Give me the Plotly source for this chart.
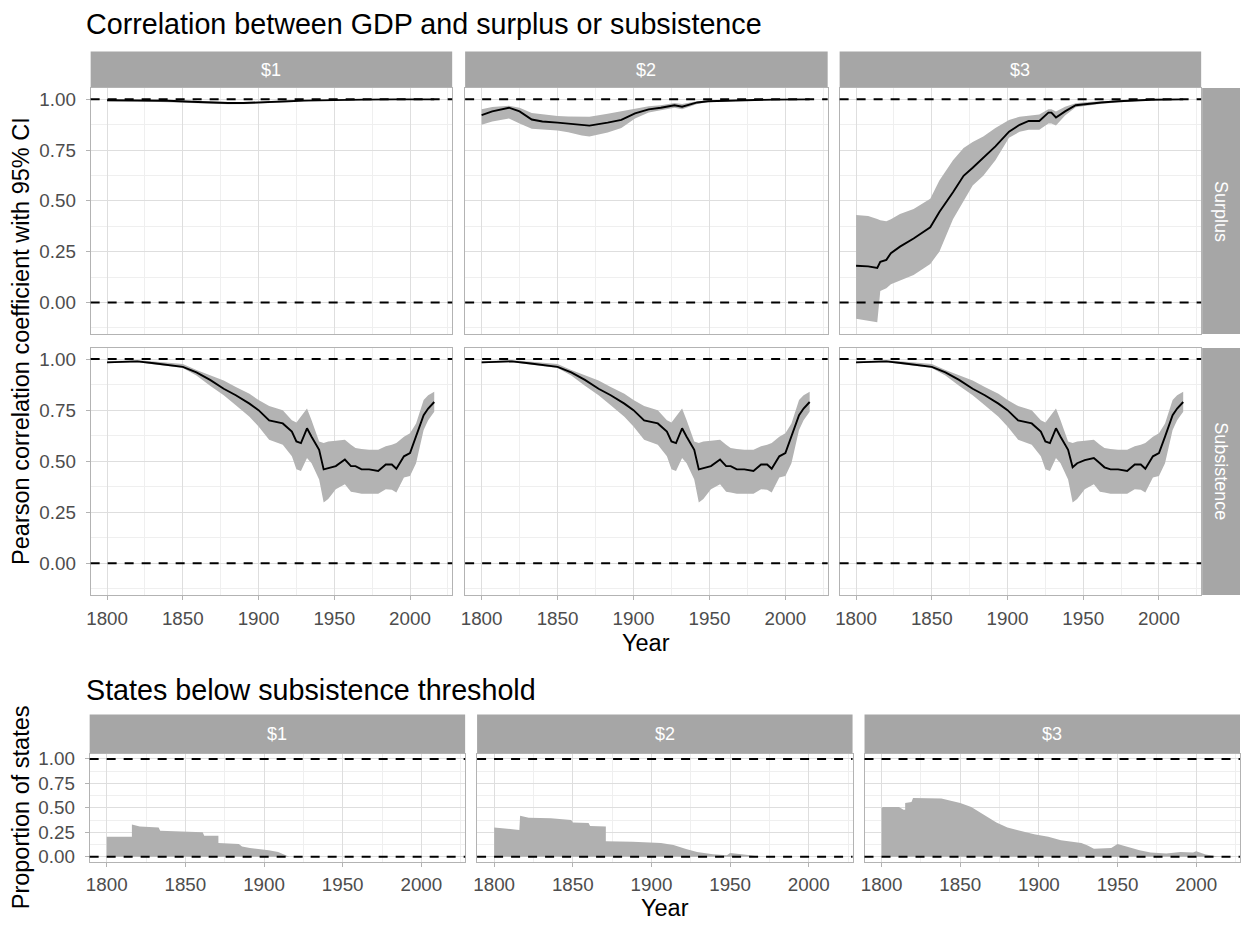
import plotly.graph_objects as go

W, H = 1241, 927

# ---------------- data ----------------
# Surplus, $1
S1_YEARS = [1800, 1820, 1840, 1860, 1870, 1880, 1890, 1900, 1910, 1920, 1930, 1940, 1950, 1970, 1990, 2016]
S1_MID = [0.995, 0.994, 0.992, 0.986, 0.983, 0.981, 0.981, 0.983, 0.987, 0.990, 0.993, 0.995, 0.997, 0.998, 0.999, 0.999]
S1_LO = [0.990, 0.990, 0.987, 0.980, 0.977, 0.975, 0.975, 0.977, 0.982, 0.986, 0.990, 0.993, 0.995, 0.997, 0.998, 0.998]
S1_HI = [0.998, 0.997, 0.996, 0.991, 0.988, 0.986, 0.986, 0.988, 0.991, 0.994, 0.996, 0.997, 0.998, 0.999, 1.000, 1.000]

# Surplus, $2
S2_YEARS = [1800, 1807, 1818, 1825, 1833, 1840, 1850, 1857, 1866, 1871, 1883, 1892, 1901, 1910, 1918, 1927, 1932, 1942, 1949, 1971, 1992, 2016]
S2_MID = [0.922, 0.940, 0.958, 0.940, 0.900, 0.890, 0.885, 0.880, 0.870, 0.870, 0.885, 0.898, 0.930, 0.950, 0.958, 0.970, 0.963, 0.984, 0.990, 0.995, 0.998, 0.999]
S2_LO = [0.874, 0.890, 0.905, 0.880, 0.855, 0.850, 0.846, 0.838, 0.822, 0.817, 0.836, 0.858, 0.905, 0.935, 0.945, 0.958, 0.950, 0.976, 0.985, 0.992, 0.996, 0.998]
S2_HI = [0.950, 0.962, 0.968, 0.958, 0.932, 0.925, 0.917, 0.915, 0.914, 0.914, 0.928, 0.940, 0.953, 0.965, 0.970, 0.981, 0.976, 0.990, 0.994, 0.997, 0.999, 1.000]

# Surplus, $3
S3_YEARS = [1800, 1808, 1814, 1816, 1820, 1823, 1829, 1838, 1849, 1855, 1864, 1871, 1877, 1884, 1892, 1901, 1908, 1914, 1921, 1927, 1929, 1932, 1938, 1945, 1951, 1962, 1973, 1995, 2016]
S3_MID = [0.181, 0.178, 0.170, 0.200, 0.210, 0.243, 0.275, 0.315, 0.370, 0.445, 0.542, 0.623, 0.663, 0.712, 0.768, 0.840, 0.874, 0.893, 0.893, 0.934, 0.934, 0.910, 0.940, 0.970, 0.976, 0.984, 0.990, 0.997, 0.999]
S3_LO = [-0.080, -0.090, -0.097, 0.057, 0.070, 0.090, 0.110, 0.135, 0.190, 0.250, 0.410, 0.500, 0.575, 0.623, 0.700, 0.810, 0.840, 0.850, 0.850, 0.880, 0.880, 0.870, 0.920, 0.960, 0.966, 0.978, 0.986, 0.996, 0.998]
S3_HI = [0.430, 0.425, 0.411, 0.405, 0.400, 0.410, 0.435, 0.460, 0.510, 0.600, 0.700, 0.760, 0.790, 0.817, 0.858, 0.898, 0.914, 0.920, 0.925, 0.950, 0.950, 0.940, 0.963, 0.980, 0.985, 0.990, 0.994, 0.999, 1.000]

# Subsistence ($1 and $2 nearly identical)
SUB_YEARS = [1800, 1820, 1831, 1850, 1859, 1868, 1877, 1885, 1894, 1900, 1907, 1916, 1922, 1925, 1928, 1932, 1935, 1940, 1943, 1946, 1951, 1957, 1961, 1964, 1968, 1973, 1979, 1984, 1988, 1991, 1996, 2000, 2004, 2009, 2012, 2016]
SUB12_MID = [0.984, 0.989, 0.980, 0.962, 0.935, 0.898, 0.855, 0.823, 0.782, 0.750, 0.700, 0.685, 0.645, 0.597, 0.589, 0.661, 0.620, 0.556, 0.460, 0.465, 0.476, 0.508, 0.476, 0.476, 0.460, 0.460, 0.452, 0.484, 0.484, 0.463, 0.524, 0.540, 0.620, 0.725, 0.758, 0.790]
SUB3_MID = [0.984, 0.989, 0.980, 0.962, 0.935, 0.898, 0.855, 0.823, 0.782, 0.750, 0.700, 0.685, 0.645, 0.597, 0.589, 0.661, 0.620, 0.556, 0.470, 0.490, 0.505, 0.515, 0.490, 0.470, 0.460, 0.460, 0.452, 0.484, 0.484, 0.463, 0.524, 0.540, 0.620, 0.725, 0.758, 0.790]
SUB_LO = [0.980, 0.985, 0.975, 0.956, 0.920, 0.870, 0.823, 0.774, 0.718, 0.670, 0.605, 0.580, 0.524, 0.460, 0.452, 0.516, 0.490, 0.410, 0.298, 0.315, 0.363, 0.387, 0.350, 0.347, 0.340, 0.340, 0.340, 0.363, 0.360, 0.347, 0.420, 0.427, 0.490, 0.653, 0.700, 0.742]
SUB_HI = [0.990, 0.995, 0.988, 0.976, 0.947, 0.920, 0.895, 0.863, 0.830, 0.800, 0.770, 0.750, 0.700, 0.690, 0.718, 0.758, 0.700, 0.597, 0.589, 0.597, 0.600, 0.605, 0.580, 0.565, 0.560, 0.556, 0.556, 0.573, 0.580, 0.589, 0.620, 0.637, 0.685, 0.800, 0.823, 0.840]

# Proportion of states below subsistence threshold
P1_YEARS = [1800, 1816, 1816, 1821, 1833, 1834, 1861, 1862, 1871, 1871, 1884, 1886, 1891, 1897, 1903, 1909, 1914, 1916]
P1_VALS = [0.205, 0.205, 0.330, 0.310, 0.300, 0.265, 0.250, 0.215, 0.215, 0.140, 0.130, 0.105, 0.090, 0.080, 0.066, 0.050, 0.017, 0.000]
P2_YEARS = [1800, 1815, 1816, 1816.5, 1822, 1836, 1849, 1850, 1860, 1861, 1871, 1871, 1888, 1906, 1914, 1922, 1929, 1939, 1948, 1950, 1956, 1963, 1969]
P2_VALS = [0.300, 0.275, 0.275, 0.420, 0.400, 0.395, 0.375, 0.350, 0.345, 0.315, 0.310, 0.160, 0.155, 0.140, 0.120, 0.080, 0.050, 0.026, 0.017, 0.040, 0.030, 0.017, 0.000]
P3_YEARS = [1800, 1801, 1811, 1814, 1815, 1815, 1819, 1820, 1838, 1842, 1850, 1857, 1863, 1868, 1873, 1880, 1889, 1897, 1906, 1914, 1927, 1931, 1935, 1946, 1950, 1956, 1964, 1971, 1981, 1990, 1998, 2000, 2006, 2013, 2017]
P3_VALS = [0.500, 0.510, 0.510, 0.480, 0.480, 0.550, 0.560, 0.600, 0.595, 0.580, 0.550, 0.510, 0.450, 0.400, 0.350, 0.300, 0.265, 0.230, 0.205, 0.170, 0.140, 0.116, 0.083, 0.090, 0.130, 0.100, 0.066, 0.043, 0.033, 0.050, 0.045, 0.056, 0.023, 0.007, 0.000]

THRESHOLDS = ["$1", "$2", "$3"]
ROWS = ["Surplus", "Subsistence"]
HLINES = [0, 1]

# ---------------- style / layout ----------------
FONT = "Liberation Sans, Arial, sans-serif"
STRIP = "#a6a6a6"
BORDER = "#b3b3b3"
GRID = "#dedede"
MINOR = "#efefef"
RIBBON = "#b3b3b3"
AREA = "#b0b0b0"
TICKC = "#4d4d4d"

TOP_COLS = [(87, 450), (463, 827), (839, 1202)]
TOP_ROWS = [(84, 333), (347, 597)]
BOT_COLS = [(86, 463), (475, 852), (864, 1241)]
BOT_ROW = (758, 867)
XRANGE = [1789.15, 2027.85]


def fx(p):
    return p / W


def fy(p):
    return 1 - p / H


fig = go.Figure()
layout = {}
shapes = []
annotations = []


def axkey(kind, k):
    return f"{kind}axis" if k == 1 else f"{kind}axis{k}"


def axref(kind, k):
    return kind if k == 1 else f"{kind}{k}"


def add_axes(k, xdom, ydom, yrange, show_x, show_y, xstand):
    common = dict(showline=True, linecolor=BORDER, linewidth=1, mirror=True,
                  showgrid=True, gridcolor=GRID, gridwidth=1, zeroline=False,
                  tickfont=dict(size=18.8, color=TICKC, family=FONT),
                  ticklen=4, tickcolor=BORDER, tickwidth=1)
    layout[axkey("x", k)] = dict(common, domain=[fx(xdom[0]), fx(xdom[1])],
                                 anchor=axref("y", k), range=XRANGE,
                                 tick0=1800, dtick=50,
                                 ticks="outside" if show_x else "",
                                 showticklabels=show_x, ticklabelstandoff=xstand,
                                 minor=dict(tick0=1800, dtick=25, showgrid=True,
                                            gridcolor=MINOR, gridwidth=1))
    layout[axkey("y", k)] = dict(common, domain=[fy(ydom[1]), fy(ydom[0])],
                                 anchor=axref("x", k), range=yrange,
                                 tick0=0, dtick=0.25, tickformat=".2f",
                                 ticks="outside" if show_y else "",
                                 showticklabels=show_y, ticklabelstandoff=6,
                                 minor=dict(tick0=0, dtick=0.125, showgrid=True,
                                            gridcolor=MINOR, gridwidth=1))
    for v in HLINES:
        shapes.append(dict(type="line", xref=f"{axref('x', k)} domain", x0=0, x1=1,
                           yref=axref("y", k), y0=v, y1=v,
                           line=dict(color="black", width=2, dash="9px,8px")))


def ribbon(k, years, lo, mid, hi):
    fig.add_trace(go.Scatter(x=years + years[::-1], y=hi + lo[::-1], fill="toself",
                             fillcolor=RIBBON, line=dict(width=0), mode="lines",
                             hoverinfo="skip", showlegend=False,
                             xaxis=axref("x", k), yaxis=axref("y", k)))
    fig.add_trace(go.Scatter(x=years, y=mid, mode="lines",
                             line=dict(color="black", width=1.9),
                             showlegend=False,
                             xaxis=axref("x", k), yaxis=axref("y", k)))


corr = [
    [(S1_YEARS, S1_LO, S1_MID, S1_HI), (S2_YEARS, S2_LO, S2_MID, S2_HI), (S3_YEARS, S3_LO, S3_MID, S3_HI)],
    [(SUB_YEARS, SUB_LO, SUB12_MID, SUB_HI), (SUB_YEARS, SUB_LO, SUB12_MID, SUB_HI), (SUB_YEARS, SUB_LO, SUB3_MID, SUB_HI)],
]

k = 0
for r in range(2):
    for c in range(3):
        k += 1
        add_axes(k, TOP_COLS[c], TOP_ROWS[r], [-0.155, 1.055], show_x=(r == 1), show_y=(c == 0), xstand=3)
        ribbon(k, *corr[r][c])

props = [(P1_YEARS, P1_VALS), (P2_YEARS, P2_VALS), (P3_YEARS, P3_VALS)]
for c in range(3):
    k += 1
    add_axes(k, BOT_COLS[c], BOT_ROW, [-0.05, 1.05], show_x=True, show_y=(c == 0), xstand=2)
    yrs, vals = props[c]
    fig.add_trace(go.Scatter(x=yrs, y=vals, mode="lines", fill="tozeroy",
                             fillcolor=AREA, line=dict(width=0, color=AREA),
                             showlegend=False,
                             xaxis=axref("x", k), yaxis=axref("y", k)))

# strips
for c, lab in enumerate(THRESHOLDS):
    x0, x1 = TOP_COLS[c]
    shapes.append(dict(type="rect", xref="paper", yref="paper", x0=fx(x0), x1=fx(x1),
                       y0=fy(84), y1=fy(47), fillcolor=STRIP, line=dict(width=0), layer="below"))
    annotations.append(dict(text=lab, xref="paper", yref="paper", x=fx((x0 + x1) / 2),
                            y=fy(65.5), showarrow=False, xanchor="center", yanchor="middle",
                            font=dict(size=18, color="white", family=FONT)))
    x0, x1 = BOT_COLS[c]
    shapes.append(dict(type="rect", xref="paper", yref="paper", x0=fx(x0), x1=fx(x1),
                       y0=fy(758), y1=fy(718), fillcolor=STRIP, line=dict(width=0), layer="below"))
    annotations.append(dict(text=lab, xref="paper", yref="paper", x=fx((x0 + x1) / 2),
                            y=fy(738), showarrow=False, xanchor="center", yanchor="middle",
                            font=dict(size=18, color="white", family=FONT)))

for r, lab in enumerate(ROWS):
    y0, y1 = TOP_ROWS[r]
    shapes.append(dict(type="rect", xref="paper", yref="paper", x0=fx(1203), x1=fx(1241),
                       y0=fy(y1), y1=fy(y0), fillcolor=STRIP, line=dict(width=0), layer="below"))
    annotations.append(dict(text=lab, xref="paper", yref="paper", x=fx(1222),
                            y=fy((y0 + y1) / 2), showarrow=False, textangle=90,
                            xanchor="center", yanchor="middle",
                            font=dict(size=18, color="white", family=FONT)))

# titles
annotations.append(dict(text="Correlation between GDP and surplus or subsistence", xref="paper", yref="paper",
                        x=fx(80), y=fy(19), xanchor="left", yanchor="middle", showarrow=False,
                        font=dict(size=28.7, color="black", family=FONT)))
annotations.append(dict(text="States below subsistence threshold", xref="paper", yref="paper",
                        x=fx(80), y=fy(693), xanchor="left", yanchor="middle", showarrow=False,
                        font=dict(size=28.7, color="black", family=FONT)))
annotations.append(dict(text="Pearson correlation coefficient with 95% CI", xref="paper", yref="paper",
                        x=fx(17), y=fy(340), xanchor="center", yanchor="middle", showarrow=False,
                        textangle=-90, font=dict(size=23.5, color="black", family=FONT)))
annotations.append(dict(text="Proportion of states", xref="paper", yref="paper",
                        x=fx(17), y=fy(812), xanchor="center", yanchor="middle", showarrow=False,
                        textangle=-90, font=dict(size=23.5, color="black", family=FONT)))
annotations.append(dict(text="Year", xref="paper", yref="paper",
                        x=fx(645), y=fy(646), xanchor="center", yanchor="middle", showarrow=False,
                        font=dict(size=23.5, color="black", family=FONT)))
annotations.append(dict(text="Year", xref="paper", yref="paper",
                        x=fx(664), y=fy(914), xanchor="center", yanchor="middle", showarrow=False,
                        font=dict(size=23.5, color="black", family=FONT)))

fig.update_layout(width=W, height=H, autosize=False, margin=dict(l=0, r=0, t=0, b=0, pad=0),
                  paper_bgcolor="white", plot_bgcolor="white", showlegend=False,
                  font=dict(family=FONT), shapes=shapes, annotations=annotations, **layout)

fig.write_html("out.html")
